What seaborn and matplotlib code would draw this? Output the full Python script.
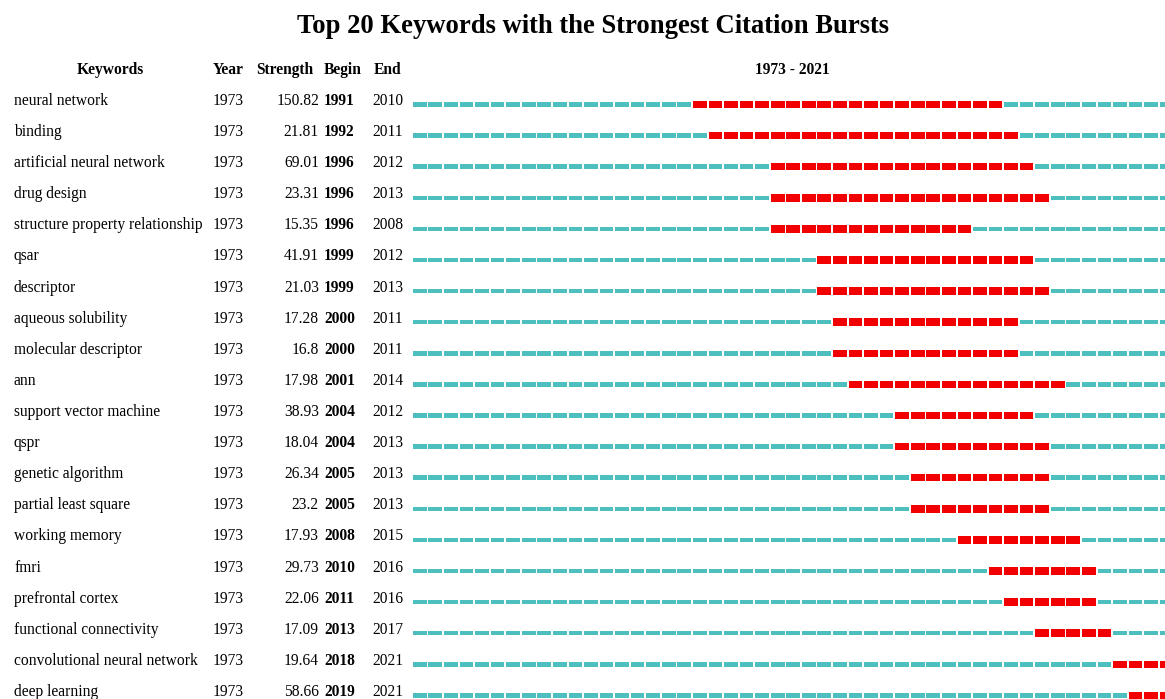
import numpy as np
import pandas as pd
import matplotlib
matplotlib.use("Agg")
from matplotlib import pyplot as plt
import seaborn as sns

# data
keywords = ["neural network", "binding", "artificial neural network", "drug design",
            "structure property relationship", "qsar", "descriptor", "aqueous solubility",
            "molecular descriptor", "ann", "support vector machine", "qspr",
            "genetic algorithm", "partial least square", "working memory", "fmri",
            "prefrontal cortex", "functional connectivity", "convolutional neural network",
            "deep learning"]
first_year = [1973] * 20
strength = ["150.82", "21.81", "69.01", "23.31", "15.35", "41.91", "21.03", "17.28",
            "16.8", "17.98", "38.93", "18.04", "26.34", "23.2", "17.93", "29.73",
            "22.06", "17.09", "19.64", "58.66"]
begin = [1991, 1992, 1996, 1996, 1996, 1999, 1999, 2000, 2000, 2001,
         2004, 2004, 2005, 2005, 2008, 2010, 2011, 2013, 2018, 2019]
end = [2010, 2011, 2012, 2013, 2008, 2012, 2013, 2011, 2011, 2014,
       2012, 2013, 2013, 2013, 2015, 2016, 2016, 2017, 2021, 2021]
start_year, end_year = 1973, 2021

# long table: one row per keyword per year
rows = []
for i, kw in enumerate(keywords):
    for yr in range(start_year, end_year + 1):
        rows.append((i, kw, yr, begin[i] <= yr <= end[i]))
df = pd.DataFrame(rows, columns=["row", "keyword", "year", "burst"])

sns.set_theme(style="white")
plt.rcParams['font.family'] = ['Liberation Serif', 'DejaVu Serif']
plt.rcParams['text.color'] = 'black'

W, H = 1165, 699
fig = plt.figure(figsize=(W / 100, H / 100), dpi=100)

# timeline axes (1973 starts at x=412, 15.56 px per year)
step = 15.56
x0 = 412
nyears = end_year - start_year + 1
row0, row_h = 104.5, 31.1
ax = fig.add_axes([x0 / W, 0, nyears * step / W, 1])
teal, red = "#4dbfbf", "#f20000"
norm = df[~df.burst]
hot = df[df.burst]
ax.barh(norm["row"], 0.88, left=norm["year"] + 0.06, height=4.5 / row_h,
        color=teal, linewidth=0)
ax.barh(hot["row"], 0.88, left=hot["year"] + 0.06, height=7.5 / row_h,
        color=red, linewidth=0)
ax.set_xlim(start_year, end_year + 1)
ax.set_ylim((H - row0) / row_h, -row0 / row_h)
ax.axis("off")

# text axes in pixel coordinates
tx = fig.add_axes([0, 0, 1, 1], zorder=-1)
tx.set_xlim(0, W)
tx.set_ylim(H, 0)
tx.axis("off")

fs = 11.2
tx.text(593, 33, "Top 20 Keywords with the Strongest Citation Bursts",
        ha="center", va="baseline", fontsize=19.2, fontweight="bold")
hy = 74
tx.text(110, hy, "Keywords", ha="center", va="baseline", fontsize=fs, fontweight="bold")
tx.text(213, hy, "Year", ha="left", va="baseline", fontsize=fs, fontweight="bold")
tx.text(256, hy, "Strength", ha="left", va="baseline", fontsize=fs, fontweight="bold")
tx.text(324, hy, "Begin", ha="left", va="baseline", fontsize=fs, fontweight="bold")
tx.text(374, hy, "End", ha="left", va="baseline", fontsize=fs, fontweight="bold")
tx.text(792, hy, f"{start_year} - {end_year}", ha="center", va="baseline",
        fontsize=fs, fontweight="bold")

for i, kw in enumerate(keywords):
    y = 105 + row_h * i
    tx.text(14, y, kw, ha="left", va="baseline", fontsize=fs)
    tx.text(213, y, str(first_year[i]), ha="left", va="baseline", fontsize=fs)
    tx.text(319, y, strength[i], ha="right", va="baseline", fontsize=fs)
    tx.text(324, y, str(begin[i]), ha="left", va="baseline", fontsize=fs, fontweight="bold")
    tx.text(372, y, str(end[i]), ha="left", va="baseline", fontsize=fs)

fig.savefig("out.png", dpi=100, facecolor="white")
